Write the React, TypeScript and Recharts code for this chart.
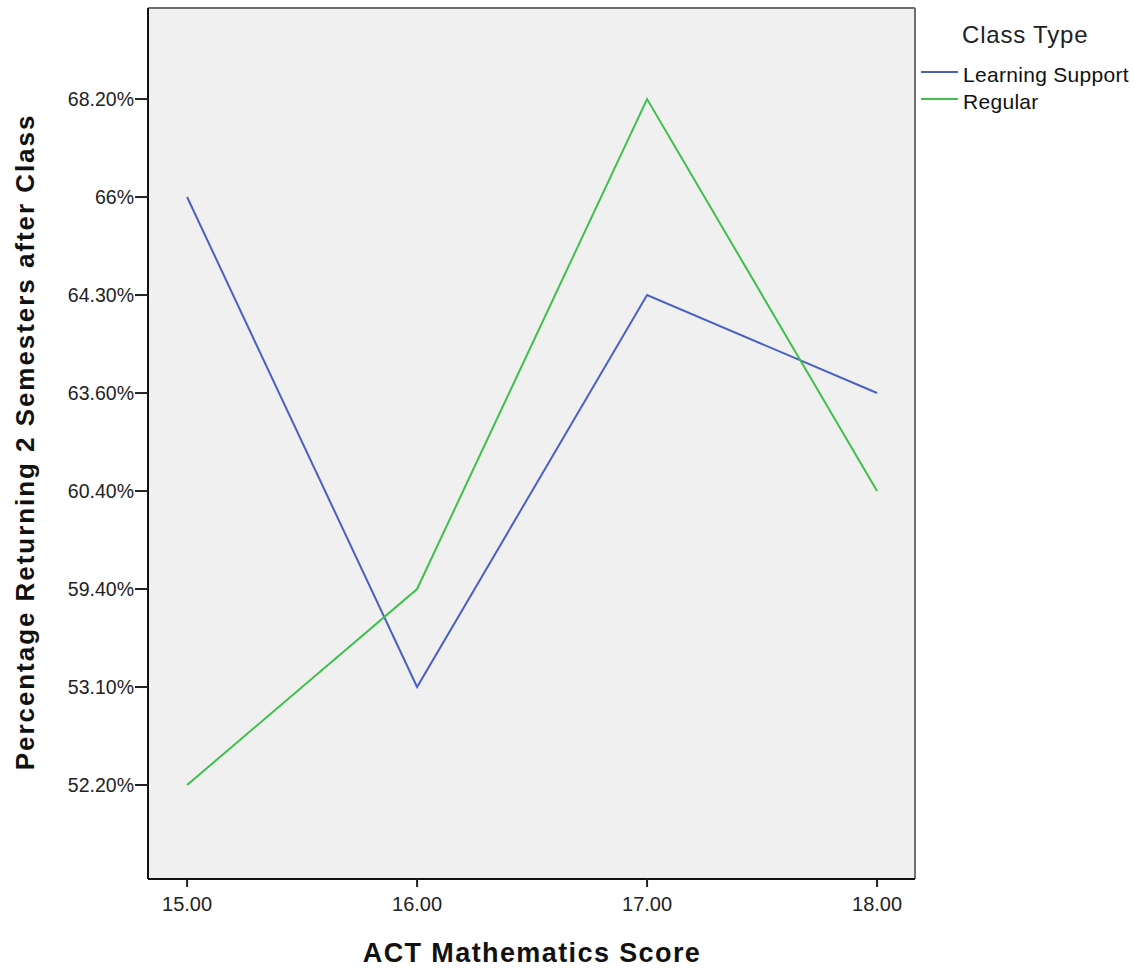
import {
  LineChart,
  Line,
  XAxis,
  YAxis,
  CartesianGrid,
  Legend,
} from 'recharts'

// ---------------------------------------------------------------------------
// Data
// ---------------------------------------------------------------------------

const scores = [15, 16, 17, 18]

// SPSS treated the percentages as categories, so they sit at even steps
const yCategories = ['52.20%', '53.10%', '59.40%', '60.40%', '63.60%', '64.30%', '66%', '68.20%']

const learningSupport = ['66%', '53.10%', '64.30%', '63.60%']
const regular = ['52.20%', '59.40%', '68.20%', '60.40%']

const seriesNames = ['Learning Support', 'Regular']
const seriesColors = ['#4a61c2', '#3fbf4c']

const data = scores.map((score, i) => ({
  score,
  learningSupport: yCategories.indexOf(learningSupport[i]),
  regular: yCategories.indexOf(regular[i]),
}))

const FONT = '"Liberation Sans", Arial, sans-serif'

// ---------------------------------------------------------------------------
// Legend
// ---------------------------------------------------------------------------

function ClassTypeLegend({ payload }: { payload?: any[] }) {
  const items = payload ?? []
  return (
    <svg width={220} height={120} style={{ fontFamily: FONT, display: 'block' }}>
      <text x={47} y={43} fontSize={24} letterSpacing={0.8} fill="#222">
        Class Type
      </text>
      {items.map((item, i) => (
        <g key={item.value}>
          <line x1={6} x2={43} y1={72 + i * 27} y2={72 + i * 27} stroke={item.color} strokeWidth={2} />
          <text x={48} y={82 + i * 27} fontSize={21} letterSpacing={0.3} fill="#111">
            {item.value}
          </text>
        </g>
      ))}
    </svg>
  )
}

// ---------------------------------------------------------------------------
// App
// ---------------------------------------------------------------------------

export default function App() {
  return (
    <div style={{ position: 'absolute', left: 0, top: 0, background: '#fff' }}>
      <LineChart
        width={1135}
        height={968}
        data={data}
        margin={{ top: 8, right: 220, left: 0, bottom: 0 }}
        style={{ fontFamily: FONT }}
      >
        {/* plot background plus the grey top / right frame */}
        <CartesianGrid
          fill="#f0f0f0"
          stroke="#707070"
          strokeWidth={2}
          horizontalCoordinatesGenerator={({ offset }: any) => [offset.top]}
          verticalCoordinatesGenerator={({ offset }: any) => [offset.left + offset.width]}
        />

        <XAxis
          dataKey="score"
          type="number"
          domain={[14.83, 18.165]}
          ticks={scores}
          allowDataOverflow
          tickFormatter={(v: number) => v.toFixed(2)}
          height={89}
          tickSize={8}
          tickMargin={10}
          tick={{ fontSize: 20, fill: '#222' }}
          tickLine={{ stroke: '#222', strokeWidth: 2 }}
          axisLine={{ stroke: '#111', strokeWidth: 2 }}
          label={() => (
            <text
              x={532}
              y={962}
              textAnchor="middle"
              fontSize={27}
              fontWeight="bold"
              letterSpacing={1.4}
              fill="#111"
              fontFamily={FONT}
            >
              ACT Mathematics Score
            </text>
          )}
        />
        <YAxis
          type="number"
          domain={[-0.959, 7.929]}
          ticks={yCategories.map((_, i) => i)}
          allowDataOverflow
          tickFormatter={(i: number) => yCategories[i]}
          width={148}
          tickSize={13}
          tickMargin={1}
          tick={{ fontSize: 19.5, fill: '#222' }}
          tickLine={{ stroke: '#222', strokeWidth: 2 }}
          axisLine={{ stroke: '#111', strokeWidth: 2 }}
          label={() => (
            <text
              x={25}
              y={442}
              transform="rotate(-90 25 442)"
              textAnchor="middle"
              dominantBaseline="central"
              fontSize={26}
              fontWeight="bold"
              letterSpacing={1.95}
              fill="#111"
              fontFamily={FONT}
            >
              Percentage Returning 2 Semesters after Class
            </text>
          )}
        />

        {/* horizontal + middle + center keeps the legend out of the plot offsets */}
        <Legend
          layout="horizontal"
          verticalAlign="middle"
          align="center"
          content={(props: any) => <ClassTypeLegend payload={props.payload} />}
          wrapperStyle={{ position: 'absolute', left: 915, top: 0, width: 220, height: 120 }}
        />

        <Line
          dataKey="learningSupport"
          name={seriesNames[0]}
          stroke={seriesColors[0]}
          strokeWidth={2}
          dot={false}
          activeDot={false}
          isAnimationActive={false}
        />
        <Line
          dataKey="regular"
          name={seriesNames[1]}
          stroke={seriesColors[1]}
          strokeWidth={2}
          dot={false}
          activeDot={false}
          isAnimationActive={false}
        />
      </LineChart>
    </div>
  )
}
